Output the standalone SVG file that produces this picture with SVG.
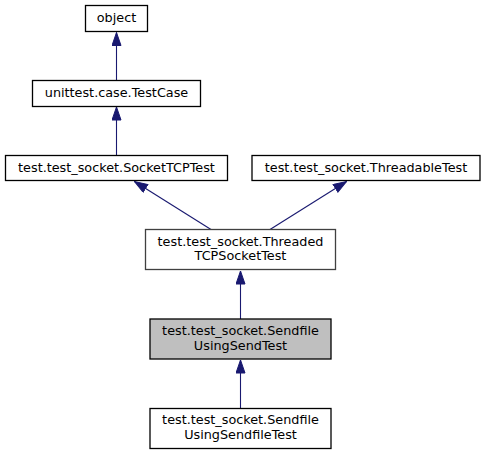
<svg xmlns="http://www.w3.org/2000/svg" width="485" height="455" viewBox="0 0 485 455">
<style>
  .box { fill: #ffffff; stroke: #000000; stroke-width: 1.3; }
  .gbox { fill: #ffffff; stroke: #404040; stroke-width: 1.3; }
  .focus { fill: #bfbfbf; stroke: #000000; stroke-width: 1.3; }
  text { font-family: "DejaVu Sans", sans-serif; font-size: 12.8px; fill: #000000; text-anchor: middle; }
  .edge { stroke: #191970; stroke-width: 1.1; fill: none; marker-end: url(#arr); }
</style>
<defs>
  <marker id="arr" markerUnits="userSpaceOnUse" markerWidth="14" markerHeight="11" refX="13.5" refY="5" orient="auto">
    <path d="M0.5,0.5 L13.5,5 L0.5,9.5 Z" fill="#191970" stroke="#191970" stroke-width="1"/>
  </marker>
</defs>
<rect width="485" height="455" fill="#ffffff"/>
<g id="connectors">
  <path class="edge" d="M116.5,80 L116.5,32.5"/>
  <path class="edge" d="M116.5,155 L116.5,107"/>
  <path class="edge" d="M211,229.5 L134.5,181.5"/>
  <path class="edge" d="M270,229.5 L346.5,181.5"/>
  <path class="edge" d="M240.5,319 L240.5,271"/>
  <path class="edge" d="M240.5,408 L240.5,360"/>
</g>
<g id="node-object">
  <rect class="box" x="85.5" y="5.5" width="62" height="26"/>
  <text x="116.5" y="22">object</text>
</g>
<g id="node-testcase">
  <rect class="box" x="32.5" y="80.5" width="168" height="26"/>
  <text x="116.5" y="97">unittest.case.TestCase</text>
</g>
<g id="node-sockettcptest">
  <rect class="box" x="5.5" y="155.5" width="222" height="25"/>
  <text x="116.5" y="171.5">test.test_socket.SocketTCPTest</text>
</g>
<g id="node-threadabletest">
  <rect class="box" x="252" y="155.5" width="228" height="25"/>
  <text x="366" y="171.5">test.test_socket.ThreadableTest</text>
</g>
<g id="node-threadedtcpsockettest">
  <rect class="gbox" x="145.5" y="229.5" width="190" height="40"/>
  <text x="240.5" y="245.5">test.test_socket.Threaded</text>
  <text x="240.5" y="259.5">TCPSocketTest</text>
</g>
<g id="node-sendfileusingsendtest">
  <rect class="focus" x="150" y="319" width="181" height="40"/>
  <text x="240.5" y="334.5">test.test_socket.Sendfile</text>
  <text x="240.5" y="349.5">UsingSendTest</text>
</g>
<g id="node-sendfileusingsendfiletest">
  <rect class="box" x="150" y="408.5" width="181" height="40"/>
  <text x="240.5" y="424">test.test_socket.Sendfile</text>
  <text x="240.5" y="438.5">UsingSendfileTest</text>
</g>
</svg>
